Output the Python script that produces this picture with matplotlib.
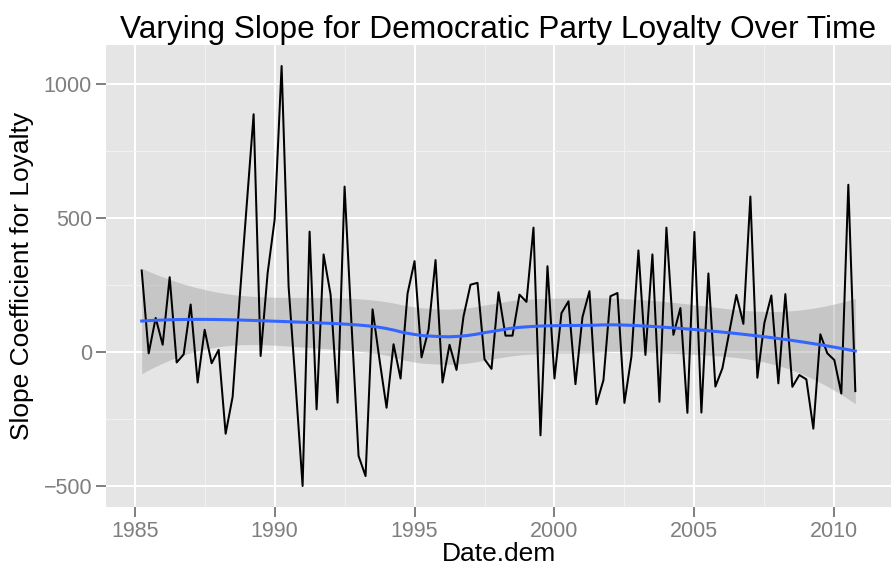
import numpy as np
import matplotlib
matplotlib.use("Agg")
import matplotlib.pyplot as plt
from matplotlib.ticker import MultipleLocator

plt.rcParams['font.family'] = ['Liberation Sans', 'DejaVu Sans']

# quarterly dates, 1985 Q2 .. 2010 Q4
date_dem = np.arange(1985.25, 2010.76, 0.25)

# slope coefficient for loyalty, one value per quarter
slope = [
    305, -4, 128, 28, 280, -38, -8, 178, -113, 84, -41, 9,
    -304, -166, 200, 545, 888, -14, 295, 494, 1068, 245, -120, -499,
    450, -213, 365, 215, -188, 618, 100, -387, -462, 160, -29, -207,
    30, -98, 219, 340, -19, 84, 344, -113, 28, -66, 134, 252,
    259, -26, -62, 224, 62, 62, 215, 188, 465, -310, 321, -98,
    146, 190, -119, 131, 228, -194, -104, 209, 221, -189, -16, 380,
    -10, 365, -185, 465, 65, 165, -226, 449, -225, 294, -128, -60,
    77, 214, 106, 581, -95, 109, 212, -116, 217, -129, -85, -101,
    -285, 67, -4, -29, -154, 625, -145,
]

title = "Varying Slope for Democratic Party Loyalty Over Time"
x_label = "Date.dem"
y_label = "Slope Coefficient for Loyalty"


def loess_matrix(x, x_eval, span=0.75):
    """Rows of the local quadratic smoother (tricube weights)."""
    n = len(x)
    q = int(np.floor(n * span))
    rows = []
    for x0 in x_eval:
        d = np.abs(x - x0)
        h = np.sort(d)[q - 1]
        u = np.clip(d / h, 0, 1)
        w = (1 - u ** 3) ** 3
        dx = x - x0
        X = np.column_stack([np.ones(n), dx, dx ** 2])
        XtW = X.T * w
        A = np.linalg.solve(XtW @ X, XtW)
        rows.append(A[0])
    return np.array(rows)


x = np.asarray(date_dem, dtype=float)
y = np.asarray(slope, dtype=float)
xs = np.linspace(x.min(), x.max(), 80)

L_hat = loess_matrix(x, x)
L_eval = loess_matrix(x, xs)
fit = L_eval @ y
resid = y - L_hat @ y
M = np.eye(len(x)) - L_hat
MtM = M.T @ M
one_delta = np.trace(MtM)
two_delta = np.trace(MtM @ MtM)
dof = one_delta ** 2 / two_delta
s = np.sqrt(np.sum(resid ** 2) / one_delta)
se = s * np.sqrt(np.sum(L_eval ** 2, axis=1))
z = 1.959964
t_crit = z + (z ** 3 + z) / (4 * dof) + (5 * z ** 5 + 16 * z ** 3 + 3 * z) / (96 * dof ** 2)
lower = fit - t_crit * se
upper = fit + t_crit * se

fig = plt.figure(figsize=(8.91, 5.69), dpi=100)
ax = fig.add_axes([106 / 891, 62 / 569, 785 / 891, 462 / 569])
ax.set_facecolor('#E5E5E5')
for sp in ax.spines.values():
    sp.set_visible(False)

ax.xaxis.set_major_locator(MultipleLocator(5))
ax.xaxis.set_minor_locator(MultipleLocator(2.5))
ax.yaxis.set_major_locator(MultipleLocator(500))
ax.yaxis.set_minor_locator(MultipleLocator(250))
ax.grid(which='major', color='white', linewidth=1.45)
ax.grid(which='minor', color='#F2F2F2', linewidth=0.7)
ax.set_axisbelow(True)
ax.tick_params(which='major', length=7, width=1.4, color='#7F7F7F',
               labelcolor='#7F7F7F', labelsize=15.5, pad=3)
ax.tick_params(which='minor', length=0)

ax.fill_between(xs, lower, upper, color='#999999', alpha=0.4, linewidth=0)
ax.plot(x, y, color='black', linewidth=1.45)
ax.plot(xs, fit, color='#3366FF', linewidth=2.2)

span_x = x.max() - x.min()
span_y = y.max() - y.min()
ax.set_xlim(x.min() - 0.05 * span_x, x.max() + 0.05 * span_x)
ax.set_ylim(y.min() - 0.05 * span_y, y.max() + 0.05 * span_y)

ax.set_xlabel(x_label, fontsize=19, va='center')
ax.set_ylabel(y_label, fontsize=19, va='center')
ax.xaxis.set_label_coords(0.5, -0.101)
ax.yaxis.set_label_coords(-0.107, 0.5)
ax.set_title(title, fontsize=22.8, pad=5)

fig.savefig('out.png', dpi=100)
